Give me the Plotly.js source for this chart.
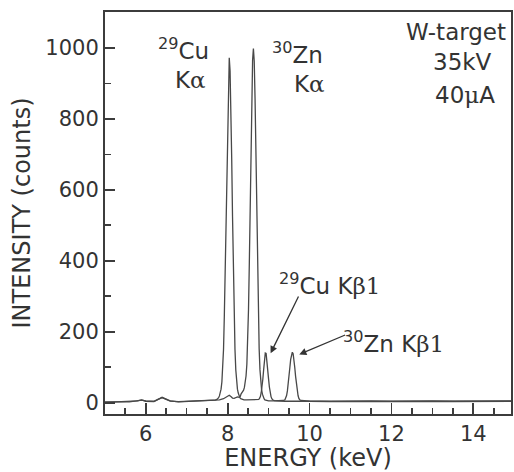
<!DOCTYPE html>
<html>
<head>
<meta charset="utf-8">
<script src="https://cdn.plot.ly/plotly-3.0.1.min.js"></script>
<style>
html,body{margin:0;padding:0;background:#fff;}
#chart{width:514px;height:472px;}
</style>
</head>
<body>
<div id="chart"></div>
<script>
// Cu target spectrum (energy in keV, intensity in counts)
const cuEnergy = [5.0,5.2,5.4,5.6,5.8,5.9,6.0,6.2,6.3,6.4,6.5,6.6,6.8,7.0,7.2,7.4,7.5,7.6,
  7.70,7.74,7.76,7.78,7.80,7.82,7.84,7.86,7.88,7.90,7.92,7.94,7.96,7.98,8.00,8.02,8.04,
  8.06,8.08,8.10,8.12,8.14,8.16,8.18,8.20,8.22,8.24,8.26,8.28,8.30,8.32,8.36,8.40,8.46,
  8.52,8.58,8.64,8.70,8.74,8.76,8.78,8.80,8.82,8.84,8.86,8.88,8.90,8.92,8.94,8.96,8.98,
  9.00,9.02,9.04,9.06,9.08,9.10,9.14,9.20,9.40,9.60,9.80,10.0,10.5,11.0,11.5,12.0,12.5,
  13.0,13.5,14.0,14.5,14.92];
const cuCounts = [1,2,1,3,5,8,4,3,10,15,10,5,2,3,4,5,6,7,
  7,9,11,14,19,27,38,58,92,150,245,370,524,687,833,935,972,
  935,833,687,524,370,245,150,92,58,38,27,19,14,11,9,8,8,
  8,9,8,7,8,9,12,17,28,44,66,93,120,140,139,120,94,
  67,44,28,17,11,8,6,5,4,4,4,3,4,3,4,4,3,
  4,4,5,4,5];

// Zn target spectrum
const znEnergy = [5.0,5.2,5.4,5.6,5.8,5.9,6.0,6.2,6.3,6.4,6.5,6.6,6.8,7.0,7.2,7.4,7.6,
  7.8,7.9,7.96,8.00,8.04,8.08,8.12,8.16,8.20,8.24,8.28,8.31,
  8.33,8.35,8.37,8.39,8.41,8.43,8.45,8.47,8.49,8.51,8.53,8.55,8.57,8.59,8.61,8.63,
  8.65,8.67,8.69,8.71,8.73,8.75,8.77,8.79,8.81,8.83,8.85,8.87,8.89,8.91,8.95,9.0,
  9.1,9.2,9.3,9.36,9.40,9.42,9.44,9.46,9.48,9.50,9.52,9.54,9.56,9.58,9.60,9.62,9.64,
  9.66,9.68,9.70,9.72,9.74,9.76,9.80,9.85,9.9,10.0,10.5,11.0,11.5,12.0,12.5,13.0,
  13.5,14.0,14.5,14.92];
const znCounts = [2,1,2,2,4,7,5,4,9,14,9,4,3,4,5,5,6,
  8,11,15,19,21,17,13,12,14,16,15,18,
  25,28,31,35,43,54,75,108,165,262,392,548,713,862,965,998,
  962,857,706,540,382,250,153,93,58,36,24,16,11,8,6,5,
  5,5,5,6,8,12,20,33,51,74,99,122,138,142,138,122,99,
  74,51,33,20,12,8,6,5,4,4,3,4,4,3,4,4,
  3,4,4,4];

const ink = '#333333';
const axisInk = '#3c3c3c';
const FONT = 'DejaVu Sans, Arial, sans-serif';
const serif = (s) => '<span style="font-family:\'DejaVu Serif\',serif">' + s + '</span>';

const traces = [
  {x: cuEnergy, y: cuCounts, type: 'scatter', mode: 'lines', name: 'Cu',
   line: {color: '#484848', width: 1.3}},
  {x: znEnergy, y: znCounts, type: 'scatter', mode: 'lines', name: 'Zn',
   line: {color: '#484848', width: 1.3}}
];

const txt = (text, x, y, size) => ({
  text: text, x: x, y: y, xref: 'x', yref: 'y', showarrow: false,
  xanchor: 'center', yanchor: 'middle',
  font: {family: FONT, size: size || 23, color: ink}
});

const annotations = [
  txt('<sup>29</sup>Cu', 6.911, 998),
  txt('K' + serif('α'), 7.10, 909),
  txt('<sup>30</sup>Zn', 9.695, 985),
  txt('K' + serif('α'), 10.0, 898),
  txt('W-target', 13.577, 1044),
  txt('35kV', 13.736, 960),
  txt('40' + serif('μ') + 'A', 13.785, 866),
  txt('<sup>29</sup>Cu K' + serif('β1'), 10.50, 333),
  txt('<sup>30</sup>Zn K' + serif('β1'), 12.051, 172),
  {text: '', x: 9.05, y: 139, xref: 'x', yref: 'y', showarrow: true,
   ax: 28.6, ay: -58.3, arrowhead: 2, arrowsize: 1.1, arrowwidth: 1.3, arrowcolor: ink, standoff: 0},
  {text: '', x: 9.75, y: 136, xref: 'x', yref: 'y', showarrow: true,
   ax: 47.4, ay: -20, arrowhead: 2, arrowsize: 1.1, arrowwidth: 1.3, arrowcolor: ink, standoff: 0}
];

const layout = {
  width: 514, height: 472,
  margin: {l: 105, r: 3, t: 12, b: 58, pad: 0},
  paper_bgcolor: '#ffffff', plot_bgcolor: '#ffffff',
  showlegend: false,
  font: {family: FONT, color: ink},
  xaxis: {
    range: [5.006, 14.92],
    tickmode: 'linear', tick0: 0, dtick: 2,
    ticks: 'inside', ticklen: 11, tickwidth: 1.8, tickcolor: axisInk,
    showline: true, linewidth: 2, linecolor: axisInk, mirror: true,
    showgrid: false, zeroline: false,
    tickfont: {family: FONT, size: 21, color: ink},
    minor: {dtick: 0.5, ticks: 'inside', ticklen: 6, tickwidth: 1.5, tickcolor: axisInk, showgrid: false},
    title: {text: 'ENERGY (keV)', font: {family: FONT, size: 24, color: ink}, standoff: 6}
  },
  yaxis: {
    range: [-32, 1101],
    tickmode: 'linear', tick0: 0, dtick: 200,
    ticks: 'inside', ticklen: 10, tickwidth: 1.8, tickcolor: axisInk,
    showline: true, linewidth: 2, linecolor: axisInk, mirror: true,
    showgrid: false, zeroline: false,
    tickfont: {family: FONT, size: 21, color: ink},
    minor: {dtick: 100, ticks: 'inside', ticklen: 6, tickwidth: 1.5, tickcolor: axisInk, showgrid: false},
    title: {text: 'INTENSITY (counts)', font: {family: FONT, size: 24, color: ink}, standoff: 8}
  },
  annotations: annotations
};

Plotly.newPlot('chart', traces, layout, {displayModeBar: false, staticPlot: true});
</script>
</body>
</html>
